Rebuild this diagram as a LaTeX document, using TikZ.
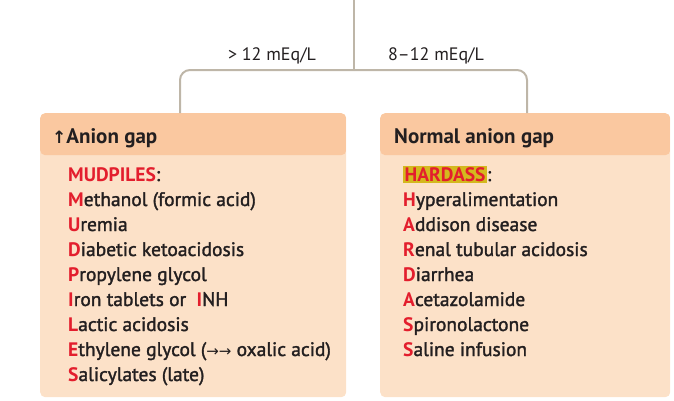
\documentclass[tikz,border=0pt]{standalone}
\usepackage{fontspec}
\setmainfont{PT Sans}
\newfontfamily\itemfont{PT Sans}[UprightFeatures={FakeBold=1.6}]
\newfontfamily\symfont{DejaVu Sans}
\definecolor{headc}{HTML}{FAC8A0}
\definecolor{bodyc}{HTML}{FCE1C8}
\definecolor{linec}{HTML}{BEB6A8}
\definecolor{redc}{HTML}{E31E2D}
\definecolor{txtc}{HTML}{231F20}
\definecolor{hlc}{HTML}{D4B81E}
\newcommand{\R}[1]{\textcolor{redc}{\bfseries #1}}
\newcommand{\Arr}{{\symfont\fontsize{15}{15}\selectfont →}}
\begin{document}
\begin{tikzpicture}[x=1pt,y=-1pt,
  box/.style={fill=bodyc, draw=none, rounded corners=5pt, inner sep=0pt, anchor=north west,
    path picture={\fill[headc] (path picture bounding box.north west) rectangle ([yshift=-42pt]path picture bounding box.north east);}},
  conn/.style={draw=linec, line width=2pt, rounded corners=10pt},
  head/.style={font=\fontsize{21}{21}\selectfont\bfseries, text=txtc, anchor=base west, inner sep=0pt},
  item/.style={font=\itemfont\fontsize{19.5}{19.5}\selectfont, text=txtc, anchor=base west, inner sep=0pt},
  lab/.style={font=\fontsize{18}{18}\selectfont, text=txtc, anchor=base, inner sep=0pt}]
\useasboundingbox (0,0) rectangle (674,400);
\node[box, minimum width=306pt, minimum height=284pt] (leftbox) at (40,113) {};
\node[box, minimum width=290pt, minimum height=284pt] (rightbox) at (380,113) {};
\coordinate (top) at (354,0);
\coordinate (junc) at (354,70);
\coordinate (lin) at (180,113);
\coordinate (rin) at (527,113);
\draw[conn] (top) -- (junc);
\draw[conn] (junc) -| (lin);
\draw[conn] (junc) -| (rin);
\node[lab] (l1) at (272,60) {> 12 mEq/L};
\node[lab] (l2) at (436,60) {8–12 mEq/L};
\node[head] (lh) at (52,143) {{\symfont\bfseries\fontsize{17}{17}\selectfont ↑}Anion gap};
\node[head] (rh) at (394,143) {Normal anion gap};
\foreach [count=\i] \t in {{\R{MUDPILES}:},{\R{M}ethanol (formic acid)},{\R{U}remia},{\R{D}iabetic ketoacidosis},{\R{P}ropylene glycol},{\R{I}ron tablets or \ \R{I}NH},{\R{L}actic acidosis},{\R{E}thylene glycol (\Arr\Arr\ oxalic acid)},{\R{S}alicylates (late)}}
  \node[item] (L\i) at (68,{181+25*(\i-1)}) {\t};
\foreach [count=\i] \t in {{{\setlength{\fboxsep}{1.5pt}\colorbox{hlc}{\R{HARDASS}}}:},{\R{H}yperalimentation},{\R{A}ddison disease},{\R{R}enal tubular acidosis},{\R{D}iarrhea},{\R{A}cetazolamide},{\R{S}pironolactone},{\R{S}aline infusion}}
  \node[item] (R\i) at (403,{181+25*(\i-1)}) {\t};
\end{tikzpicture}
\end{document}
